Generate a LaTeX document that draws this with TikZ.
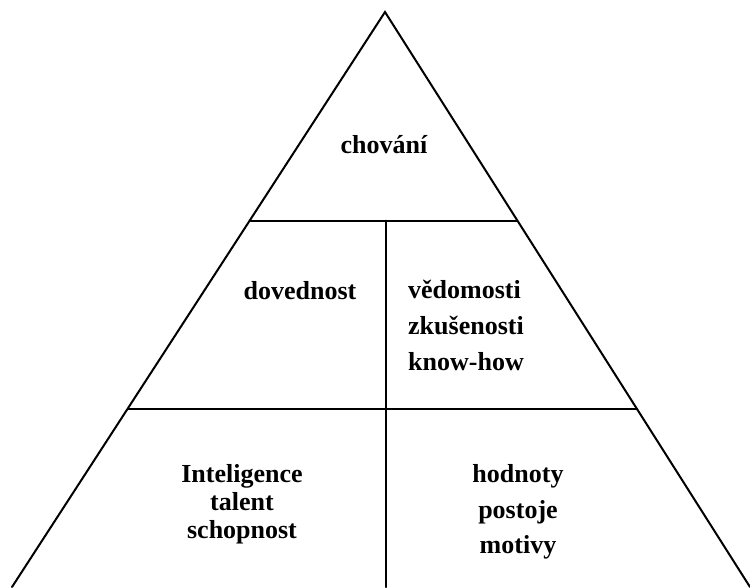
\documentclass[tikz,border=0pt]{standalone}
\usepackage{fontspec}
\setmainfont{Liberation Serif}
\begin{document}
\begin{tikzpicture}[x=1pt,y=-1pt,
  edge/.style={line width=2pt,line cap=round},
  lbl/.style={font=\bfseries\fontsize{26}{28}\selectfont,inner sep=0pt,anchor=base}]
\useasboundingbox (0,0) rectangle (750,587);
\coordinate (apex) at (385,12);
\coordinate (bl) at (12,587);
\coordinate (br) at (750,587);
\coordinate (h1l) at (250.5,220.5);
\coordinate (h1r) at (517,220.5);
\coordinate (h2l) at (128,409);
\coordinate (h2r) at (637,409);
\coordinate (vt) at (386,220.5);
\coordinate (vb) at (386,587);
\draw[edge,line join=miter] (bl) -- (apex) -- (br);
\draw[edge] (h1l) -- (h1r);
\draw[edge] (h2l) -- (h2r);
\draw[edge] (vt) -- (vb);
\node[lbl] (chovani) at (384,153) {chování};
\node[lbl] (dovednost) at (300,299) {dovednost};
\node[lbl,anchor=base west] (vedomosti) at (408,298) {vědomosti};
\node[lbl,anchor=base west] (zkusenosti) at (408,334) {zkušenosti};
\node[lbl,anchor=base west] (knowhow) at (408,370) {know-how};
\node[lbl] (inteligence) at (242,482) {Inteligence};
\node[lbl] (talent) at (242,510) {talent};
\node[lbl] (schopnost) at (242,538) {schopnost};
\node[lbl] (hodnoty) at (518,482) {hodnoty};
\node[lbl] (postoje) at (518,518) {postoje};
\node[lbl] (motivy) at (518,553) {motivy};
\end{tikzpicture}
\end{document}
